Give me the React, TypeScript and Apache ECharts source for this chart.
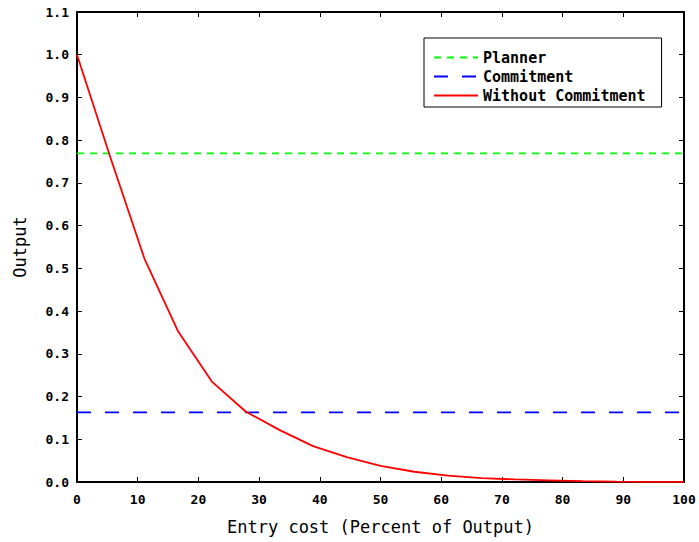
import React, { useEffect, useRef } from "react";
import * as echarts from "echarts";

const entryCost = [0, 5.56, 11.11, 16.67, 22.22, 27.78, 33.33, 38.89, 44.44, 50, 55.56, 61.11, 66.67, 72.22, 77.78, 83.33, 88.89, 94.44, 100];
const withoutCommitment = [1.0, 0.757, 0.523, 0.352, 0.235, 0.165, 0.122, 0.084, 0.058, 0.038, 0.024, 0.015, 0.009, 0.006, 0.004, 0.002, 0.001, 0.0005, 0.0002];
const plannerRange = [0, 100];
const plannerValue = 0.769;
const commitmentValue = 0.163;
const seriesNames = ["Planner", "Commitment", "Without Commitment"];

const FONT = "DejaVu Sans Mono";

export default function App() {
  const ref = useRef<HTMLDivElement>(null);
  useEffect(() => {
    if (!ref.current) return;
    const chart = echarts.init(ref.current, undefined, { renderer: "svg" });
    const tickStyle = { show: true, inside: true, length: 5, lineStyle: { color: "#000", width: 1 } };
    const lineAxis = { show: true, onZero: false, lineStyle: { color: "#000", width: 2 } };
    chart.setOption({
      animation: false,
      backgroundColor: "#fff",
      grid: { left: 77, top: 12, right: 15, bottom: 60, containLabel: false },
      legend: {
        show: true,
        data: seriesNames,
        orient: "vertical",
        left: 424,
        top: 38,
        padding: [12, 16, 4, 9],
        itemWidth: 44,
        itemHeight: 14,
        itemGap: 4,
        borderColor: "#000",
        borderWidth: 1,
        backgroundColor: "#fff",
        itemStyle: { opacity: 0 },
        textStyle: { fontFamily: FONT, fontSize: 15, fontWeight: "bold", color: "#000" },
      },
      xAxis: [
        {
          type: "value",
          min: 0,
          max: 100,
          interval: 10,
          position: "bottom",
          name: "Entry cost (Percent of Output)",
          nameLocation: "middle",
          nameGap: 36,
          nameTextStyle: { fontFamily: FONT, fontSize: 17, color: "#000" },
          axisLine: lineAxis,
          axisTick: tickStyle,
          axisLabel: { margin: 11, fontFamily: FONT, fontSize: 13, fontWeight: "bold", color: "#000" },
          splitLine: { show: false },
        },
        {
          type: "value",
          min: 0,
          max: 100,
          interval: 10,
          position: "top",
          axisLine: lineAxis,
          axisTick: tickStyle,
          axisLabel: { show: false },
          splitLine: { show: false },
        },
      ],
      yAxis: [
        {
          type: "value",
          min: 0,
          max: 1.1,
          interval: 0.1,
          position: "left",
          name: "Output",
          nameLocation: "middle",
          nameRotate: 90,
          nameGap: 49,
          nameTextStyle: { fontFamily: FONT, fontSize: 17, color: "#000" },
          axisLine: lineAxis,
          axisTick: tickStyle,
          axisLabel: {
            margin: 8,
            fontFamily: FONT,
            fontSize: 13,
            fontWeight: "bold",
            color: "#000",
            formatter: (v: number) => v.toFixed(1),
          },
          splitLine: { show: false },
        },
        {
          type: "value",
          min: 0,
          max: 1.1,
          interval: 0.1,
          position: "right",
          axisLine: lineAxis,
          axisTick: tickStyle,
          axisLabel: { show: false },
          splitLine: { show: false },
        },
      ],
      series: [
        {
          name: seriesNames[0],
          type: "line",
          symbol: "none",
          data: plannerRange.map((x) => [x, plannerValue]),
          lineStyle: { color: "#00ff00", width: 1.8, type: [7, 6] },
          itemStyle: { color: "#00ff00" },
        },
        {
          name: seriesNames[1],
          type: "line",
          symbol: "none",
          data: plannerRange.map((x) => [x, commitmentValue]),
          lineStyle: { color: "#0000ff", width: 1.8, type: [14, 14] },
          itemStyle: { color: "#0000ff" },
        },
        {
          name: seriesNames[2],
          type: "line",
          symbol: "none",
          data: entryCost.map((x, i) => [x, withoutCommitment[i]]),
          lineStyle: { color: "#ff0000", width: 1.8, type: "solid" },
          itemStyle: { color: "#ff0000" },
        },
      ],
    });
    return () => chart.dispose();
  }, []);
  return <div ref={ref} style={{ position: "fixed", left: 0, top: 0, width: 699, height: 542, background: "#fff" }} />;
}
